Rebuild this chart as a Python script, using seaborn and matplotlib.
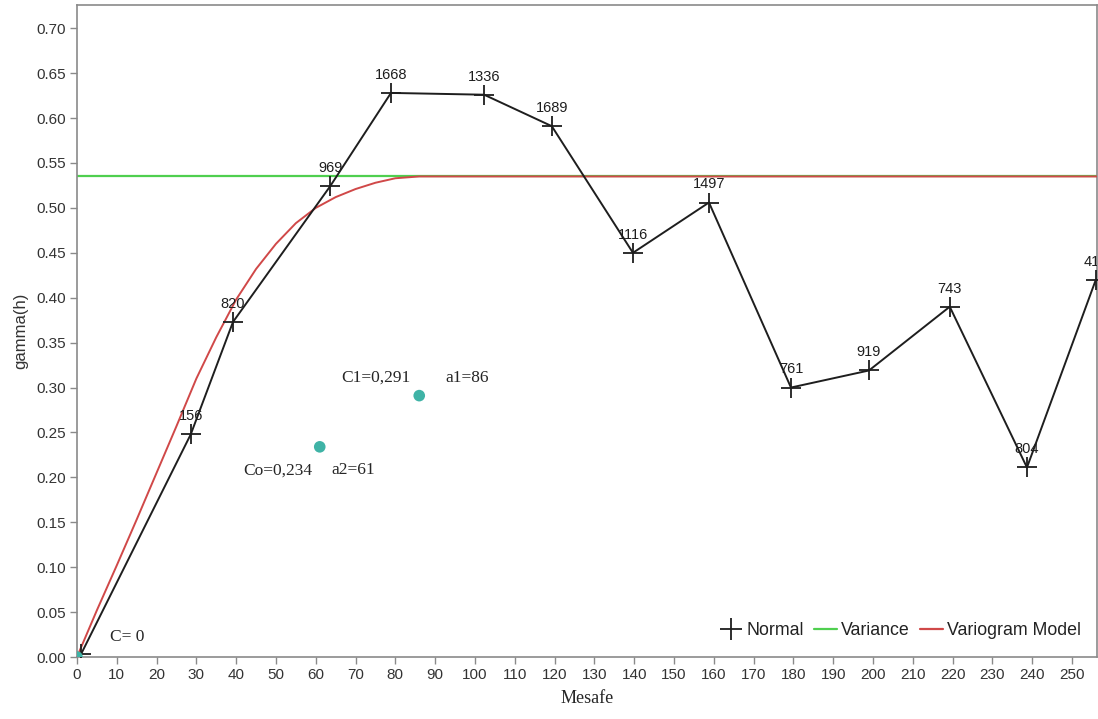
import matplotlib
matplotlib.use("Agg")
import matplotlib.pyplot as plt
from matplotlib.lines import Line2D
import seaborn as sns
import pandas as pd

# Experimental semivariogram (lag distance, gamma, number of pairs)
lag = [1, 28.6, 39.2, 63.6, 78.9, 102.3, 119.3, 139.7, 158.8, 179.4, 199.0, 219.3, 238.7, 256.0]
gamma = [0.003, 0.248, 0.373, 0.524, 0.628, 0.626, 0.591, 0.450, 0.506, 0.300, 0.319, 0.390, 0.211, 0.420]
pairs = ["", "156", "820", "969", "1668", "1336", "1689", "1116", "1497", "761", "919", "743", "804", "417"]

# Sample variance (sill reference)
variance = 0.535

# Fitted variogram model
model_lag = [0, 5, 10, 15, 20, 25, 30, 35, 40, 45, 50, 55, 60, 65, 70, 75, 80, 86, 260]
model_gamma = [0.0, 0.052, 0.102, 0.153, 0.205, 0.257, 0.310, 0.356, 0.398, 0.432, 0.460,
               0.483, 0.500, 0.512, 0.521, 0.528, 0.533, 0.535, 0.535]

# Model parameters
param_x = [0, 61, 86]
param_y = [0.0, 0.234, 0.291]

sns.set_style("white")
plt.rcParams["font.family"] = ["Liberation Sans", "DejaVu Sans"]

fig = plt.figure(figsize=(10.98, 7.19), dpi=100)
ax = fig.add_axes([0.0701, 0.0862, 0.929, 0.907])

exp_df = pd.DataFrame({"lag": lag, "gamma": gamma})
mod_df = pd.DataFrame({"lag": model_lag, "gamma": model_gamma})
par_df = pd.DataFrame({"lag": param_x, "gamma": param_y})

ax.axhline(variance, color="#4fcf4f", lw=1.6, zorder=2)
sns.lineplot(data=mod_df, x="lag", y="gamma", color="#d04848", lw=1.4,
             sort=False, ax=ax, zorder=3)
sns.lineplot(data=exp_df, x="lag", y="gamma", color="#1e1e1e", lw=1.4,
             marker="+", markersize=14, markeredgewidth=1.3,
             markeredgecolor="#1e1e1e", sort=False, ax=ax, zorder=4)
sns.scatterplot(data=par_df, x="lag", y="gamma", color="#3fb3a6", s=70,
                edgecolor="none", ax=ax, zorder=5)

for x, y, t in zip(lag, gamma, pairs):
    if t:
        ax.annotate(t, (x, y), xytext=(0, 8), textcoords="offset points",
                    ha="center", va="bottom", fontsize=10.5, color="#1e1e1e",
                    clip_on=True, annotation_clip=False)

serif = ["Liberation Serif", "DejaVu Serif"]
ax.text(66.3, 0.311, "C1=0,291", family=serif, fontsize=12.5, va="center")
ax.text(92.5, 0.311, "a1=86", family=serif, fontsize=12.5, va="center")
ax.text(41.7, 0.208, "Co=0,234", family=serif, fontsize=12.5, va="center")
ax.text(64.0, 0.208, "a2=61", family=serif, fontsize=12.5, va="center")
ax.text(8.3, 0.022, "C= 0", family=serif, fontsize=12.5, va="center")

ax.set_xlim(0, 256.3)
ax.set_ylim(0, 0.726)
ax.set_xticks(range(0, 251, 10))
ax.set_yticks([i * 0.05 for i in range(15)])
ax.set_yticklabels([f"{i * 0.05:.2f}" for i in range(15)])
ax.tick_params(axis="both", which="major", direction="out", length=5, width=1,
               color="#8a8a8a", labelsize=11, labelcolor="#333333", pad=3,
               bottom=True, left=True)
for s in ax.spines.values():
    s.set_color("#8a8a8a")
    s.set_linewidth(1.2)

ax.set_xlabel("Mesafe", family=serif, fontsize=13, labelpad=6)
ax.set_ylabel("gamma(h)", fontsize=12, color="#333333", labelpad=6)

handles = [
    Line2D([], [], color="#1e1e1e", marker="+", linestyle="none",
           markersize=16, markeredgewidth=1.3),
    Line2D([], [], color="#4fcf4f", lw=1.6),
    Line2D([], [], color="#d04848", lw=1.6),
]
ax.legend(handles, ["Normal", "Variance", "Variogram Model"], loc="lower right",
          bbox_to_anchor=(1.0, 0.003), ncol=3, frameon=False, fontsize=12.8,
          handlelength=1.3, handletextpad=0.2, columnspacing=0.6,
          labelcolor="#222222")

fig.savefig("out.png", dpi=100)
